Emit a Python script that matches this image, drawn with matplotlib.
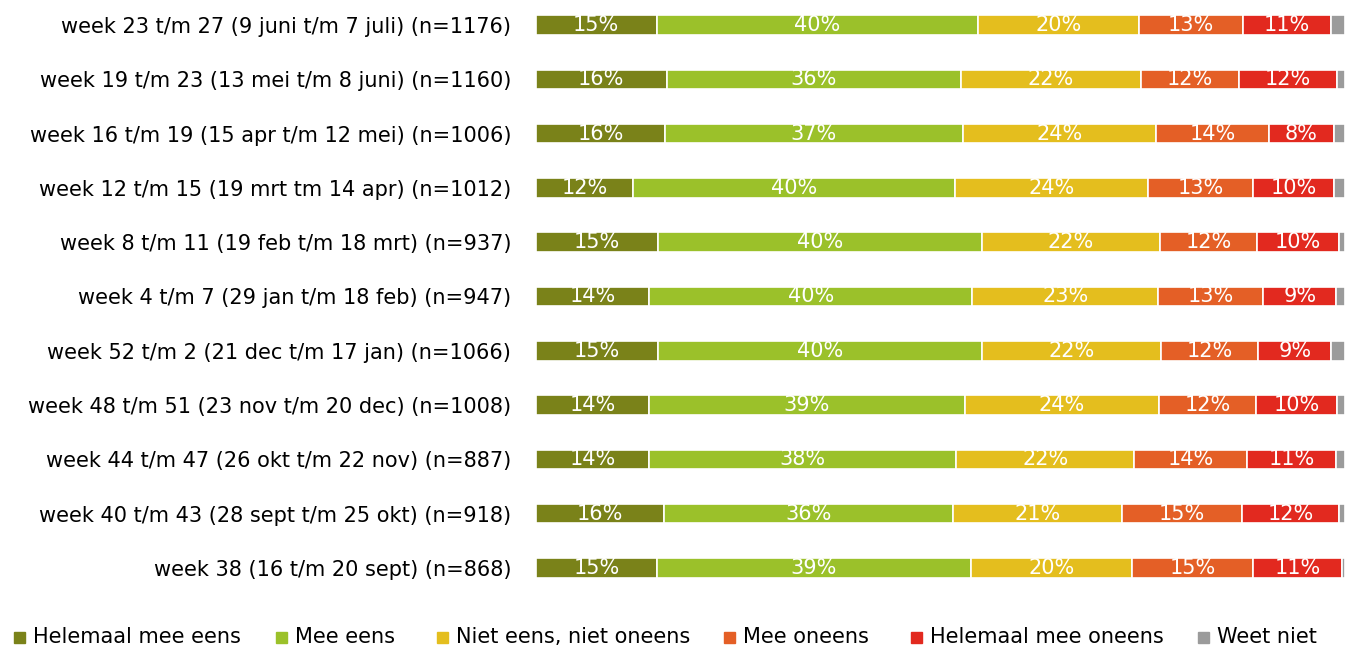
import matplotlib
matplotlib.use("Agg")
import matplotlib.pyplot as plt
from matplotlib.patches import Rectangle
import numpy as np

categories = [
    "week 23 t/m 27 (9 juni t/m 7 juli) (n=1176)",
    "week 19 t/m 23 (13 mei t/m 8 juni) (n=1160)",
    "week 16 t/m 19 (15 apr t/m 12 mei) (n=1006)",
    "week 12 t/m 15 (19 mrt tm 14 apr) (n=1012)",
    "week 8 t/m 11 (19 feb t/m 18 mrt) (n=937)",
    "week 4 t/m 7 (29 jan t/m 18 feb) (n=947)",
    "week 52 t/m 2 (21 dec t/m 17 jan) (n=1066)",
    "week 48 t/m 51 (23 nov t/m 20 dec) (n=1008)",
    "week 44 t/m 47 (26 okt t/m 22 nov) (n=887)",
    "week 40 t/m 43 (28 sept t/m 25 okt) (n=918)",
    "week 38 (16 t/m 20 sept) (n=868)",
]
series_names = ["Helemaal mee eens", "Mee eens", "Niet eens, niet oneens",
                "Mee oneens", "Helemaal mee oneens", "Weet niet"]
helemaal_eens = [15, 16, 16, 12, 15, 14, 15, 14, 14, 16, 15]
mee_eens      = [40, 36, 37, 40, 40, 40, 40, 39, 38, 36, 39]
neutraal      = [20, 22, 24, 24, 22, 23, 22, 24, 22, 21, 20]
mee_oneens    = [13, 12, 14, 13, 12, 13, 12, 12, 14, 15, 15]
hel_oneens    = [11, 12, 8, 10, 10, 9, 9, 10, 11, 12, 11]
weet_niet     = [1.7, 1.0, 1.4, 1.4, 0.8, 1.1, 1.7, 1.0, 1.1, 0.8, 0.4]

colors = ["#7A8219", "#9BC12A", "#E4BE1E", "#E45F26", "#E2291F", "#9B9B9B"]

data = np.array([helemaal_eens, mee_eens, neutraal, mee_oneens, hel_oneens, weet_niet], dtype=float)
totals = data.sum(axis=0)
widths = data / totals * 100

plt.rcParams['font.family'] = ['DejaVu Sans']

W, H = 1345, 648
fig = plt.figure(figsize=(W / 100, H / 100), dpi=100)
ax = fig.add_axes([536 / W, 1 - 595 / H, 1 - 536 / W, 597 / H])

y = np.arange(len(categories))
left = np.zeros(len(categories))
for i, name in enumerate(series_names):
    ax.barh(y, widths[i], left=left, height=0.36, color=colors[i],
            edgecolor="white", linewidth=1.2, label=name)
    if i < 5:
        for j in range(len(categories)):
            ax.text(left[j] + widths[i][j] / 2, y[j], f"{int(data[i][j])}%",
                    ha="center", va="center", color="white", fontsize=15)
    left += widths[i]

ax.set_xlim(0, 100)
ax.set_ylim(len(categories) - 0.5, -0.5)
ax.set_yticks(y)
ax.set_yticklabels(categories, fontsize=15)
ax.tick_params(axis="y", length=0, pad=18)
ax.set_xticks([])
for s in ax.spines.values():
    s.set_visible(False)

# legend, manually laid out
leg_x = [14, 276, 437, 724, 911, 1198]
leg_y = 637
sq = 11
for name, c, lx in zip(series_names, colors, leg_x):
    fig.patches.append(Rectangle((lx / W, 1 - (leg_y + sq / 2) / H), sq / W, sq / H,
                                 transform=fig.transFigure, color=c))
    fig.text((lx + sq + 8) / W, 1 - leg_y / H, name, ha="left", va="center",
             fontsize=15, color="black")

fig.savefig("out.png", dpi=100)
